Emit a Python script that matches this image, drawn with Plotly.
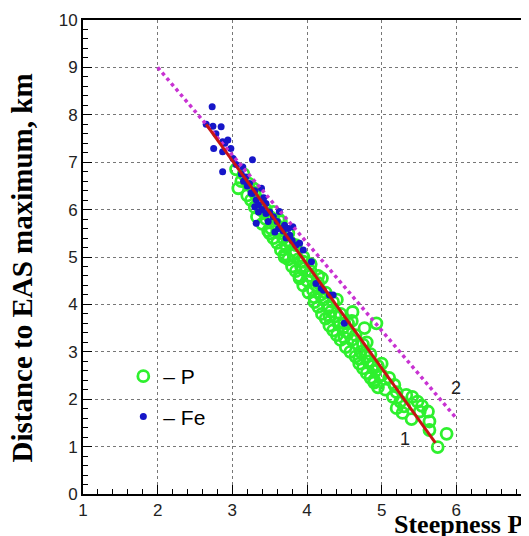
"""Distance to EAS maximum vs steepness P, for p and Fe showers"""

import plotly.graph_objects as go

# p showers (green open circles)
p_x = [3.05, 3.08, 3.12, 3.15, 3.2, 3.22, 3.25, 3.28, 3.3, 3.3,
       3.33, 3.35, 3.38, 3.4, 3.42, 3.45, 3.48, 3.5, 3.52, 3.55, 3.58, 3.6, 3.6,
       3.62, 3.65, 3.68, 3.7, 3.72, 3.75, 3.78, 3.8, 3.82, 3.85, 3.88, 3.9, 3.92,
       3.95, 3.98, 4.0,
       4.02, 4.05, 4.08, 4.1, 4.12, 4.15, 4.18, 4.2, 4.22, 4.25, 4.28, 4.3, 4.32,
       4.35, 4.38, 4.4, 4.42, 4.45, 4.48, 4.5,
       4.52, 4.55, 4.58, 4.6, 4.61, 4.77, 4.93, 4.65, 4.68, 4.7, 4.72, 4.75, 4.78,
       4.8, 4.82, 4.85, 4.88, 4.9, 4.92, 4.95, 4.98,
       5.0, 5.17, 5.2, 5.28, 5.4, 5.51, 5.62, 5.64, 5.64, 5.87, 5.75, 5.33, 5.41,
       5.48, 5.54, 5.05, 5.1, 5.15, 5.25, 5.3, 5.2,
       3.55, 3.65, 3.75, 3.85, 3.95, 4.05, 4.15,
       3.45, 3.55, 3.65, 3.75, 3.85, 3.95, 4.05, 4.15, 4.25, 4.35, 4.45, 4.55,
       4.65, 4.75, 4.85, 4.95,
       3.5, 3.7, 3.9, 4.1, 4.3, 4.5, 4.7, 4.9,
       4.2, 4.4, 4.6, 4.8, 5.0]
p_y = [6.85, 6.45, 6.6, 6.75, 6.3, 6.55, 6.2, 6.45, 6.05, 6.35,
       5.85, 6.2, 6.0, 5.7, 5.95, 5.8, 5.55, 5.85, 5.6, 5.4, 5.7, 5.3, 5.55,
       5.8, 5.15, 5.4, 5.0, 5.25, 4.95, 5.3, 4.8, 5.05, 4.7, 4.95, 4.55, 4.8,
       4.4, 4.7, 4.5,
       4.25, 4.6, 4.3, 4.05, 4.4, 3.95, 4.2, 3.8, 4.1, 3.7, 3.95, 3.55, 3.85,
       3.45, 3.75, 3.35, 3.6, 3.25, 3.5, 3.6,
       3.1, 3.4, 3.0, 3.25, 3.84, 3.5, 3.6, 2.9, 3.15, 2.75, 3.0, 2.65, 2.9,
       2.55, 2.8, 2.45, 2.7, 2.35, 2.6, 2.25, 2.5,
       2.51, 2.3, 1.81, 1.71, 1.58, 1.74, 1.74, 1.53, 1.35, 1.27, 0.99, 2.09, 2.05,
       1.95, 1.86, 2.2, 2.45, 2.05, 1.95, 1.85, 2.15,
       5.95, 5.75, 5.5, 5.25, 5.0, 4.85, 4.6,
       6.0, 5.8, 5.55, 5.35, 5.1, 4.9, 4.7, 4.45, 4.25, 4.05, 3.8, 3.6,
       3.35, 3.15, 2.95, 2.7,
       5.5, 5.05, 4.6, 4.15, 3.75, 3.3, 2.85, 2.4,
       4.55, 4.1, 3.65, 3.2, 2.75]

# Fe showers (blue dots)
fe_x = [2.73, 2.65, 2.74, 2.85, 2.75, 2.87, 2.94, 2.98, 2.87, 2.87, 3.27,
        3.01, 3.14, 3.18, 3.23, 3.27, 3.32, 3.39, 3.45, 2.78, 2.9, 3.05,
        3.3, 3.32, 3.45, 3.63, 3.57, 3.77, 3.9, 3.95, 4.06, 4.12, 4.19, 4.3,
        3.7, 3.81, 4.35, 4.22, 4.5,
        3.35, 3.4, 3.42, 3.5, 3.55, 3.6, 3.62, 3.68, 3.72, 3.75, 3.8, 3.85,
        3.3, 3.25, 3.2, 3.15, 3.12, 3.35, 3.48]
fe_y = [8.17, 7.8, 7.76, 7.75, 7.29, 7.43, 7.47, 7.29, 7.22, 6.8, 7.05,
        7.08, 6.9, 6.69, 6.55, 6.34, 6.2, 6.45, 6.13, 7.6, 7.4, 6.95,
        6.06, 5.71, 5.92, 5.96, 5.53, 5.46, 5.29, 5.15, 4.9, 4.44, 4.34, 4.2,
        5.67, 5.64, 4.2, 4.3, 3.6,
        6.1, 6.0, 6.25, 5.95, 5.85, 5.75, 5.6, 5.55, 5.4, 5.6, 5.35, 5.25,
        6.4, 6.35, 6.5, 6.6, 6.75, 5.95, 5.75]

# line 1 (fit) and line 2 (dotted)
line1_x = [2.65, 5.72]
line1_y = [7.8, 1.08]
line2_x = [2.0, 6.01]
line2_y = [9.0, 1.58]

fig = go.Figure()

fig.add_trace(go.Scatter(
    x=p_x, y=p_y, mode="markers", name="\u2013 P", legendgroup="p",
    marker=dict(symbol="circle-open", size=11, color="#2ef02e",
                line=dict(width=2.8, color="#2ef02e")),
))
fig.add_trace(go.Scatter(
    x=fe_x, y=fe_y, mode="markers", name="\u2013 Fe", legendgroup="fe",
    marker=dict(symbol="circle", size=7, color="#1616c8"),
))
fig.add_trace(go.Scatter(
    x=line2_x, y=line2_y, mode="lines", showlegend=False,
    line=dict(color="#c832d2", width=3.5, dash="dot"),
))
fig.add_trace(go.Scatter(
    x=line1_x, y=line1_y, mode="lines", showlegend=False,
    line=dict(color="#c81414", width=3),
))

tick_font = dict(family="Liberation Sans, Arial", size=17, color="#222222")

fig.update_xaxes(
    range=[1, 7], dtick=1, tick0=1,
    showline=True, linecolor="black", linewidth=2, mirror=True,
    showgrid=True, gridcolor="#777777", gridwidth=1, griddash="dot",
    zeroline=False, ticks="inside", ticklen=9, tickcolor="black",
    minor=dict(dtick=0.2, ticks="inside", ticklen=5, tickcolor="black",
               showgrid=False),
    tickfont=tick_font, automargin=False,
)
fig.update_yaxes(
    range=[0, 10], dtick=1,
    showline=True, linecolor="black", linewidth=2,
    showgrid=True, gridcolor="#777777", gridwidth=1, griddash="dot",
    zeroline=False, ticks="inside", ticklen=9, tickcolor="black",
    minor=dict(dtick=0.2, ticks="inside", ticklen=5, tickcolor="black",
               showgrid=False),
    tickfont=tick_font, automargin=False,
)

fig.add_annotation(x=5.31, y=1.16, text="1", showarrow=False,
                   font=dict(family="Liberation Sans, Arial", size=18,
                             color="#222222"))
fig.add_annotation(x=6.0, y=2.24, text="2", showarrow=False,
                   font=dict(family="Liberation Sans, Arial", size=18,
                             color="#222222"))

fig.add_annotation(xref="paper", yref="paper", x=0.987, y=-0.064,
                   xanchor="right", yanchor="middle", text="<b>Steepness P</b>",
                   showarrow=False,
                   font=dict(family="Liberation Serif, Times New Roman",
                             size=26, color="black"))
fig.add_annotation(xref="paper", yref="paper", x=-0.137, y=0.477,
                   xanchor="center", yanchor="middle", textangle=-90,
                   text="<b>Distance to EAS maximum, km</b>",
                   showarrow=False,
                   font=dict(family="Liberation Serif, Times New Roman",
                             size=29, color="black"))

# the page body has an 8px margin, so margins are set to land the plot
# where the reference has it
fig.update_layout(
    width=529, height=536,
    margin=dict(l=75, r=6, t=12, b=50),
    plot_bgcolor="white", paper_bgcolor="white",
    legend=dict(x=0.09, y=0.291, xanchor="left", yanchor="top",
                bgcolor="rgba(0,0,0,0)", tracegroupgap=10,
                font=dict(family="Liberation Sans, Arial", size=21,
                          color="black")),
)

fig.write_html("out.html")
